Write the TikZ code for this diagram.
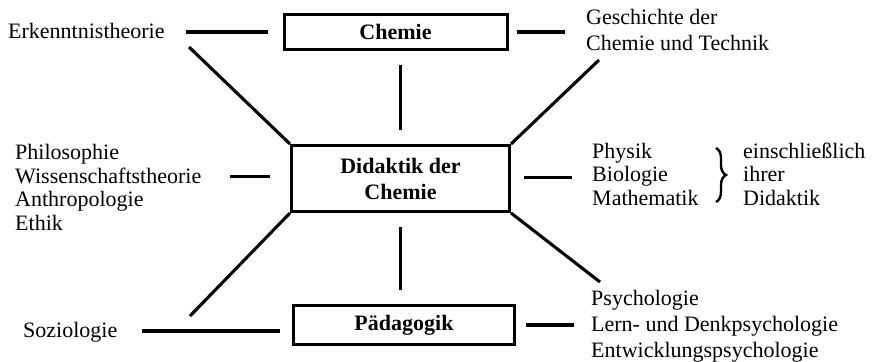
\documentclass[tikz,border=0pt]{standalone}
\usepackage{fontspec}
\setmainfont{Liberation Serif}
\usepackage{tikz}
\usetikzlibrary{positioning}
\usetikzlibrary{decorations.pathreplacing}

\begin{document}
\begin{tikzpicture}[
		x=1pt, y=-1pt,
		fach/.style={draw, line width=3pt, inner sep=0, align=center, font=\bfseries\fontsize{22}{26}\selectfont},
		txt/.style={anchor=base west, align=left, inner sep=0, font=\fontsize{22}{23.5}\selectfont},
		link/.style={line width=3.1pt}
	]
		\useasboundingbox (0,0) rectangle (874,361);
		\path
			(395.5,32) node[fach, minimum width=223, minimum height=35](chemie){Chemie}
			(400.5,178.5) node[fach, minimum width=218, minimum height=66](didaktik){Didaktik der\\Chemie}
			(404,325) node[fach, minimum width=221, minimum height=39](paed){Pädagogik}
		;
		% multi-line texts sit on their last line
		\path
			(8,39) node[txt](erk){Erkenntnistheorie}
			(586,50) node[txt, font=\fontsize{22}{25}\selectfont](gesch){Geschichte der\\Chemie und Technik}
			(15,230) node[txt](phil){Philosophie\\Wissenschaftstheorie\\Anthropologie\\Ethik}
			(592,205) node[txt](physik){Physik\\Biologie\\Mathematik}
			(743,205) node[txt](einschl){einschließlich\\ihrer\\Didaktik}
			(23,337) node[txt](sozio){Soziologie}
			(591,357) node[txt, font=\fontsize{22}{26}\selectfont](psych){Psychologie\\Lern- und Denkpsychologie\\Entwicklungspsychologie}
			(189,47) coordinate(erkEnd)
			(599,60) coordinate(geschEnd)
			(190,316) coordinate(soziEnd)
			(600,282) coordinate(psychEnd)
		;
		\draw[link]
			(didaktik.north west) -- (erkEnd)
			(didaktik.north east) -- (geschEnd)
			(didaktik.south west) -- (soziEnd)
			(didaktik.south east) -- (psychEnd)
		;
		\draw[link, shorten <=14pt, shorten >=14pt]
			(didaktik.north) -- (didaktik.north |- chemie.south);
		\draw[link, shorten <=14pt, shorten >=14pt]
			(didaktik.south) -- (didaktik.south |- paed.north);
		\draw[link]
			([xshift=-15pt]chemie.west) -- ++(-82,0)
			([xshift=8pt]chemie.east) -- ++(48,0)
			([shift={(-20,-2)}]didaktik.west) -- ++(-40,0)
			([shift={(13,-1)}]didaktik.east) -- ++(48,0)
			([shift={(-12,6)}]paed.west) -- ++(-138,0)
			([xshift=10pt]paed.east) -- ++(48,0)
		;
		\draw[line width=2.4pt, decorate, decoration={brace, amplitude=10pt}]
			(716,148) -- (716,202);
	\end{tikzpicture}
\end{document}
